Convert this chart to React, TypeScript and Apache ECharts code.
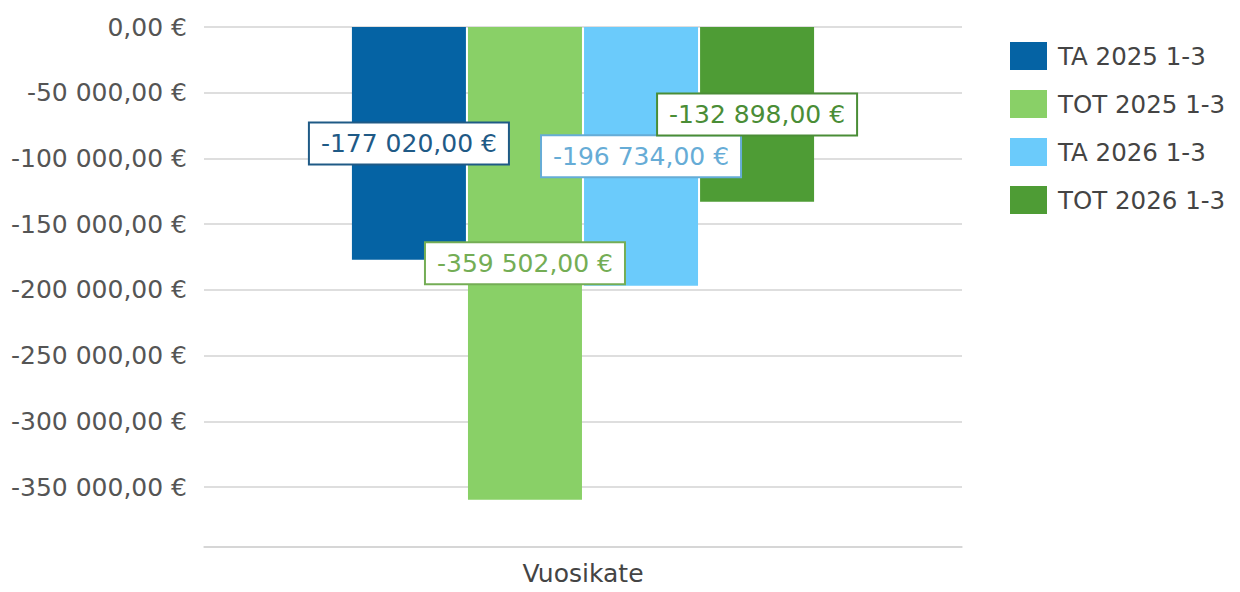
import React, { useEffect, useRef } from "react";
import * as echarts from "echarts";

const categories = ["Vuosikate"];
const seriesNames = ["TA 2025 1-3", "TOT 2025 1-3", "TA 2026 1-3", "TOT 2026 1-3"];
const ta2025 = [-177020];
const tot2025 = [-359502];
const ta2026 = [-196734];
const tot2026 = [-132898];

const barColors = ["#0563a4", "#89d067", "#6bcbfb", "#4e9c35"];
const labelColors = ["#1f5a86", "#74ad55", "#66acd6", "#4a8d36"];

function fmt(v: number): string {
  const neg = v < 0;
  const abs = Math.abs(v);
  const [intPart, dec] = abs.toFixed(2).split(".");
  const grouped = intPart.replace(/\B(?=(\d{3})+(?!\d))/g, " ");
  return (neg ? "-" : "") + grouped + "," + dec + " €";
}

const FONT = "DejaVu Sans";

export default function App() {
  const ref = useRef<HTMLDivElement>(null);
  useEffect(() => {
    document.body.style.margin = "0";
    if (!ref.current) return;
    const chart = echarts.init(ref.current, null, { renderer: "svg" });
    const allData = [ta2025, tot2025, ta2026, tot2026];
    chart.setOption({
      animation: false,
      backgroundColor: "#ffffff",
      textStyle: { fontFamily: FONT },
      grid: { left: 204, right: 278, top: 27, bottom: 45, containLabel: false },
      legend: {
        orient: "vertical",
        left: 1005,
        top: 37,
        itemWidth: 37,
        itemHeight: 28,
        itemGap: 20,
        icon: "rect",
        data: seriesNames,
        textStyle: {
          fontFamily: FONT,
          fontSize: 24.5,
          color: "#444444",
          lineHeight: 28,
          padding: [0, 0, 0, 6],
        },
      },
      xAxis: {
        type: "category",
        data: categories,
        axisTick: { show: false },
        axisLine: { onZero: false, lineStyle: { color: "#d3d3d3", width: 1.5 } },
        axisLabel: { fontFamily: FONT, fontSize: 25, color: "#444444", margin: 14 },
      },
      yAxis: {
        type: "value",
        max: 0,
        min: (v: { min: number }) => v.min * 1.1,
        splitNumber: 8,
        axisLine: { show: false },
        axisTick: { show: false },
        splitLine: { lineStyle: { color: "#d3d3d3", width: 1.5 } },
        axisLabel: {
          fontFamily: FONT,
          fontSize: 25,
          color: "#555555",
          margin: 17,
          showMinLabel: false,
          formatter: (v: number) => fmt(v),
        },
      },
      series: seriesNames.map((name, i) => ({
        name,
        type: "bar",
        data: allData[i],
        barWidth: 114,
        barGap: "1.8%",
        itemStyle: { color: barColors[i] },
        label: {
          show: true,
          position: "inside",
          formatter: (p: { value: number }) => fmt(p.value),
          fontFamily: FONT,
          fontSize: 25,
          color: labelColors[i],
          backgroundColor: "#ffffff",
          borderColor: labelColors[i],
          borderWidth: 2,
          padding: [8, 11, 7, 11],
        },
      })),
    });
    return () => chart.dispose();
  }, []);
  return <div ref={ref} style={{ width: 1240, height: 592 }} />;
}
